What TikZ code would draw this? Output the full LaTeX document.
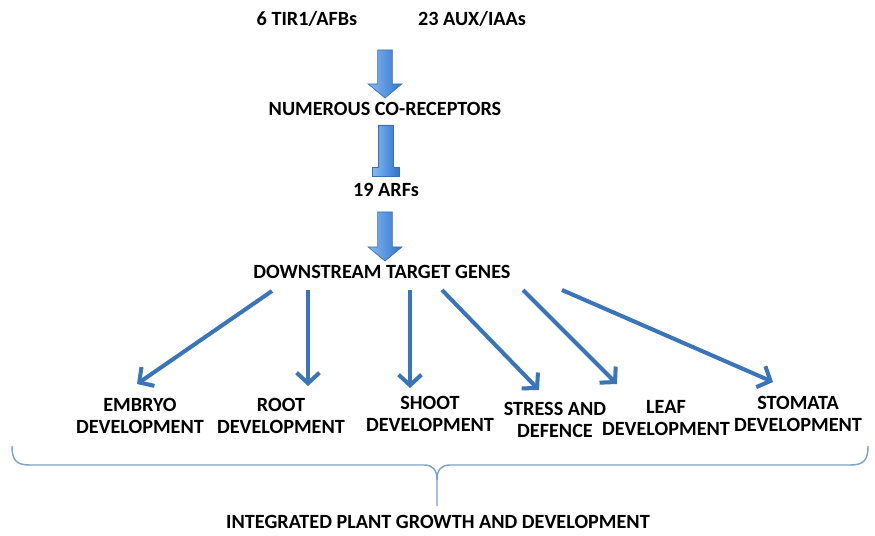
\documentclass[tikz,border=0pt]{standalone}
\usepackage{fontspec}
\setmainfont{Carlito}
\usetikzlibrary{arrows.meta,calc}

\definecolor{arrblue}{RGB}{58,116,186}
\definecolor{fatdark}{RGB}{45,115,205}
\definecolor{fatlight}{RGB}{135,185,242}
\definecolor{fatline}{RGB}{60,110,175}
\definecolor{bracecol}{RGB}{125,160,200}

% big shaded arrow pointing down, from #1 to #2
\newcommand{\fatdown}[2]{%
  \shade[fat] let \p1=(#1), \p2=(#2) in
    (\x1-4.2pt,\y1) -- (\x1+4.2pt,\y1) -- (\x1+4.2pt,\y2+8pt)
    -- (\x1+9.6pt,\y2+8pt) -- (\x1,\y2) -- (\x1-9.6pt,\y2+8pt)
    -- (\x1-4.2pt,\y2+8pt) -- cycle;}
% big shaded blunt (T) arrow, from #1 to #2
\newcommand{\fatbar}[2]{%
  \shade[fat] let \p1=(#1), \p2=(#2) in
    (\x1-4.2pt,\y1) -- (\x1+4.2pt,\y1) -- (\x1+4.2pt,\y2+5pt)
    -- (\x1+7.6pt,\y2+5pt) -- (\x1+7.6pt,\y2) -- (\x1-7.6pt,\y2)
    -- (\x1-7.6pt,\y2+5pt) -- (\x1-4.2pt,\y2+5pt) -- cycle;}

\begin{document}
\begin{tikzpicture}[
  x=0.02cm, y=-0.02cm,
  lbl/.style={font=\fontsize{11.5}{12.5}\selectfont\bfseries,
              align=center, inner sep=1pt},
  thinarr/.style={draw=arrblue, line width=2.3pt,
                  -{Straight Barb[length=6pt,width=13pt]}},
  fat/.style={left color=fatlight, right color=fatdark, draw=fatline,
              line width=0.4pt},
  brace/.style={draw=bracecol, line width=0.8pt}
]
\useasboundingbox (0,0) rectangle (875,536);

% Receptors
\node[lbl] (tir) at (307,19) {6 TIR1/AFBs};
\node[lbl] (aux) at (472,19) {23 AUX/IAAs};

% Chain
\node[lbl] (corec) at (385,109) {NUMEROUS CO-RECEPTORS};
\node[lbl] (arfs)  at (386,190) {19 ARFs};
\node[lbl] (genes) at (382,272) {DOWNSTREAM TARGET GENES};

% Processes
\node[lbl] (embryo)  at (140,416) {EMBRYO\\DEVELOPMENT};
\node[lbl] (root)    at (281,416) {ROOT\\DEVELOPMENT};
\node[lbl] (shoot)   at (430,414) {SHOOT\\DEVELOPMENT};
\node[lbl] (stress)  at (555,420) {STRESS AND\\DEFENCE};
\node[lbl] (leaf)    at (666,418) {LEAF\\DEVELOPMENT};
\node[lbl] (stomata) at (798,414) {STOMATA\\DEVELOPMENT};

% Outcome
\node[lbl] (plant) at (438,522) {INTEGRATED PLANT GROWTH AND DEVELOPMENT};

% Big arrows
\coordinate (a1s) at (385,50);  \coordinate (a1e) at (385,98);
\coordinate (a2s) at (386,125); \coordinate (a2e) at (386,176);
\coordinate (a3s) at (385,212); \coordinate (a3e) at (385,261);
\fatdown{a1s}{a1e}
\fatbar{a2s}{a2e}
\fatdown{a3s}{a3e}

% Thin arrows
\coordinate (s1) at (272,291); \coordinate (e1) at (137,384);
\coordinate (s2) at (308,290); \coordinate (e2) at (308,386);
\coordinate (s3) at (410,290); \coordinate (e3) at (410,388);
\coordinate (s4) at (442,290); \coordinate (e4) at (539,390);
\coordinate (s5) at (523,290); \coordinate (e5) at (617,384);
\coordinate (s6) at (562,290); \coordinate (e6) at (773,382);
\foreach \i in {1,...,6}
  \draw[thinarr] (s\i) -- (e\i);

% Brace
\coordinate (bl) at (12,446);
\coordinate (br) at (868,446);
\coordinate (tip) at (437,506);
\draw[brace] (bl) .. controls (12,460) and (16,465) .. (30,465) -- (424,465)
  .. controls (433,465) and (437,470) .. (437,480) -- (tip);
\draw[brace] (br) .. controls (868,460) and (864,465) .. (850,465) -- (450,465)
  .. controls (441,465) and (437,470) .. (437,480);
\end{tikzpicture}
\end{document}
